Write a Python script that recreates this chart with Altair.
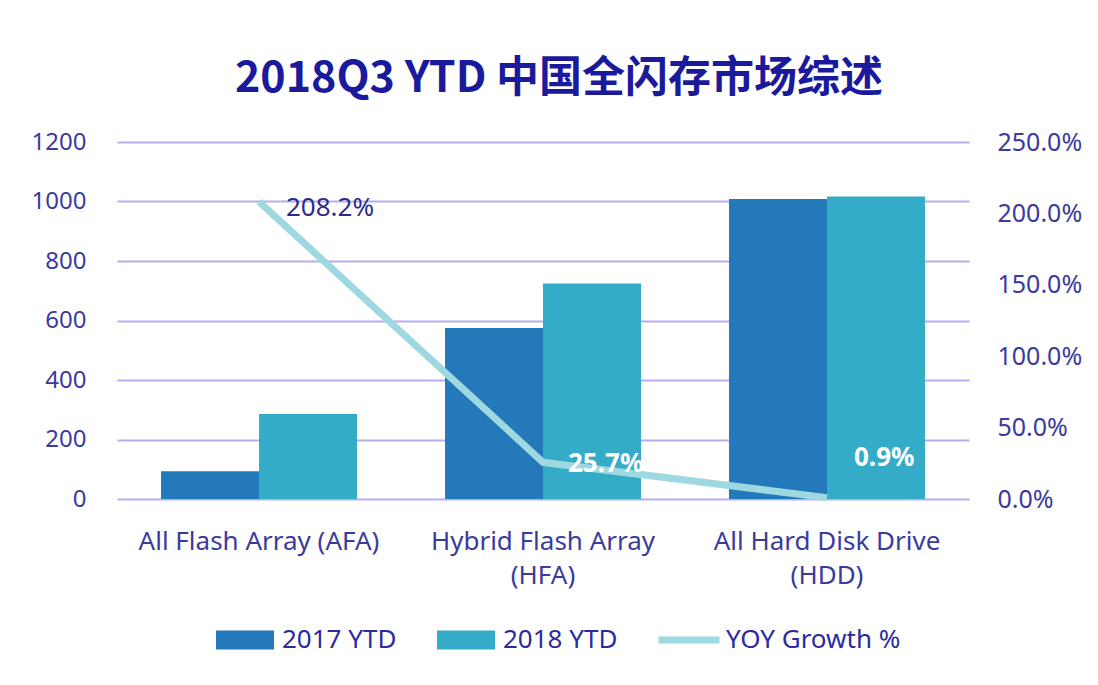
import altair as alt
import pandas as pd

categories = ["All Flash Array (AFA)", "Hybrid Flash Array|(HFA)", "All Hard Disk Drive|(HDD)"]
ytd_2017 = [93, 575, 1008]
ytd_2018 = [286, 724, 1017]
yoy_growth = [2.082, 0.257, 0.009]
yoy_labels = ["208.2%", "25.7%", "0.9%"]
series = ["2017 YTD", "2018 YTD", "YOY Growth %"]
colors = ["#2479BA", "#35ACC7", "#9ED8E0"]

FONT = "Noto Sans"
AXIS_COLOR = "#3B3B9E"
GRID_COLOR = "#B3ADF0"

bars_df = pd.DataFrame({
    "category": categories * 2,
    "series": [series[0]] * 3 + [series[1]] * 3,
    "value": ytd_2017 + ytd_2018,
})
line_df = pd.DataFrame({
    "category": categories,
    "series": [series[2]] * 3,
    "growth": yoy_growth,
    "label": yoy_labels,
})
legend_df = pd.DataFrame({"series": series})

legend_def = alt.Legend(
    title=None, orient="none", direction="horizontal", legendX=99, legendY=469,
    labelFontSize=26, labelColor="#2B2BA0", labelFont=FONT, labelLimit=0,
    symbolSize=3364, symbolStrokeWidth=0, symbolOpacity=1,
    columnPadding=40, labelOffset=8,
)

x_enc = alt.X(
    "category:N",
    sort=categories,
    scale=alt.Scale(paddingInner=0.31, paddingOuter=0.155),
    axis=alt.Axis(
        title=None, labelAngle=0, domain=False, ticks=False, labelLimit=0, grid=False,
        labelPadding=29, labelFontSize=26, labelColor=AXIS_COLOR, labelFont=FONT,
        labelLineHeight=34, labelExpr="split(datum.label, '|')",
    ),
)

color_enc = alt.Color(
    "series:N",
    scale=alt.Scale(domain=series, range=colors),
    legend=legend_def,
)

bars = alt.Chart(bars_df).mark_bar().encode(
    x=x_enc,
    xOffset=alt.XOffset("series:N", sort=series[:2], scale=alt.Scale(paddingInner=0, paddingOuter=0)),
    y=alt.Y(
        "value:Q",
        scale=alt.Scale(domain=[0, 1200], nice=False),
        axis=alt.Axis(
            title=None, values=[0, 200, 400, 600, 800, 1000, 1200], format="d", grid=True,
            gridColor=GRID_COLOR, gridWidth=2, domain=False, ticks=False,
            labelPadding=31, labelFontSize=24, labelColor=AXIS_COLOR, labelFont=FONT,
        ),
    ),
    color=color_enc,
)

y_right = alt.Y(
    "growth:Q",
    scale=alt.Scale(domain=[0, 2.5], nice=False),
    axis=alt.Axis(
        title=None, orient="right", values=[0, 0.5, 1.0, 1.5, 2.0, 2.5], format=".1%",
        grid=False, domain=False, ticks=False,
        labelPadding=28, labelFontSize=25, labelColor=AXIS_COLOR, labelFont=FONT,
    ),
)

line = alt.Chart(line_df).mark_line(strokeWidth=7, strokeCap="butt").encode(
    x=alt.X("category:N", sort=categories),
    y=y_right,
    color=color_enc,
)

def label_layer(idx, color, weight, dx, dy, size):
    return alt.Chart(line_df).transform_filter(
        alt.datum.label == yoy_labels[idx]
    ).mark_text(
        align="left", baseline="middle", dx=dx, dy=dy, fontSize=size,
        font=FONT, fontWeight=weight, color=color,
    ).encode(
        x=alt.X("category:N", sort=categories),
        y=y_right,
        text="label:N",
    )

t1 = label_layer(0, "#2B2B8E", "normal", 27, 6, 26)
t2 = label_layer(1, "white", "bold", 25, 2, 26)
t3 = label_layer(2, "white", "bold", 27, -40, 26)

legend_pts = alt.Chart(legend_df).mark_point(size=0, filled=True, opacity=0).encode(
    color=color_enc,
    shape=alt.Shape(
        "series:N",
        scale=alt.Scale(
            domain=series,
            range=["M-1,-0.33H1V0.33H-1Z", "M-1,-0.33H1V0.33H-1Z", "M-1.05,-0.12H1.05V0.12H-1.05Z"],
        ),
        legend=legend_def,
    ),
)

right = alt.layer(line, t1, t2, t3)

chart = alt.layer(bars, right, legend_pts).resolve_scale(
    y="independent"
).properties(
    width=852,
    height=357,
    background="white",
    padding={"left": 23, "top": 50, "right": 4, "bottom": 10},
    title=alt.TitleParams(
        "2018Q3 YTD 中国全闪存市场综述",
        fontSize=43, font="Noto Sans CJK SC", fontWeight="bold",
        color="#1C1A9C", offset=29, anchor="middle", dx=16,
    ),
).configure_view(stroke="transparent", strokeWidth=0).configure_axis(
    domain=False, ticks=False
).configure_axisX(grid=False)

chart.save("out.html", embed_options={"renderer": "svg", "actions": False})
